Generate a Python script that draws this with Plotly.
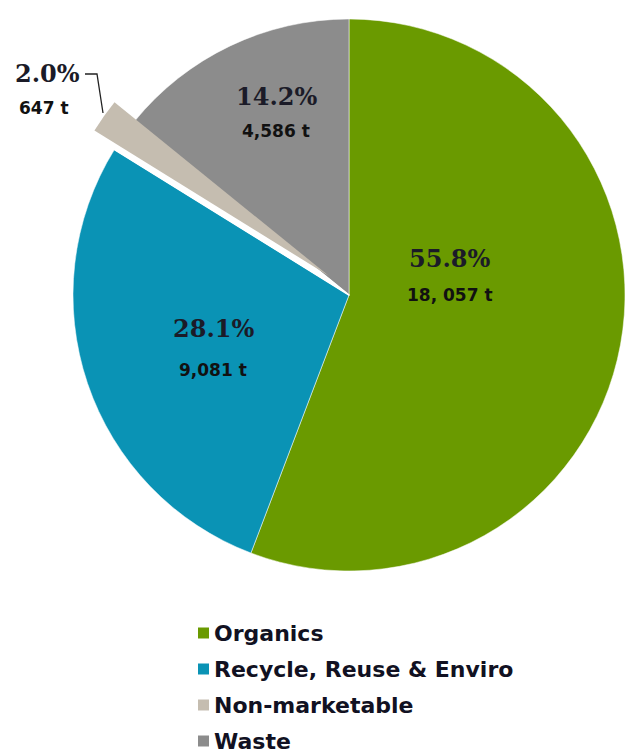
import plotly.graph_objects as go

# ---- data ----
categories = ["Organics", "Recycle, Reuse & Enviro", "Non-marketable", "Waste"]
tonnes = [18057, 9081, 647, 4586]
tonne_labels = ["18, 057 t", "9,081 t", "647 t", "4,586 t"]
colors = ["#6A9A00", "#0A93B5", "#C5BDB0", "#8C8C8C"]
pulled = "Non-marketable"

W, H = 626, 754
total = sum(tonnes)
pct_labels = [f"{v / total * 100:.1f}%" for v in tonnes]


def px(x, y):
    return x / W, 1 - y / H


def dom(x0, x1, ytop, ybot):
    return dict(x=[max(0, x0 / W), min(1, x1 / W)], y=[max(0, 1 - ybot / H), min(1, 1 - ytop / H)])


# main pie geometry (pixels)
CX, CY, R = 349, 295, 276
OFF_X, OFF_Y = -20, -19  # displacement of the pulled slice

main_dom = dom(CX - R, CX + R, CY - R, CY + R)
pull_dom = dom(CX - R + OFF_X, CX + R + OFF_X, CY - R + OFF_Y, CY + R + OFF_Y)

common = dict(labels=categories, values=tonnes, sort=False, direction="clockwise",
              rotation=0, textinfo="none", showlegend=False)

fig = go.Figure()
# full pie
fig.add_trace(go.Pie(**common, domain=main_dom,
                     marker=dict(colors=colors, line=dict(color="white", width=0.5)),
                     hoverinfo="label+value+percent"))
# white cover over the original place of the pulled slice
cover_cols = ["white" if c == pulled else "rgba(0,0,0,0)" for c in categories]
cover_line = ["white" if c == pulled else "rgba(0,0,0,0)" for c in categories]
fig.add_trace(go.Pie(**common, domain=main_dom,
                     marker=dict(colors=cover_cols, line=dict(color=cover_line, width=1.5)),
                     hoverinfo="skip"))
# the pulled slice, displaced
pull_cols = [col if c == pulled else "rgba(0,0,0,0)" for c, col in zip(categories, colors)]
fig.add_trace(go.Pie(**common, domain=pull_dom,
                     marker=dict(colors=pull_cols, line=dict(color="rgba(0,0,0,0)", width=0)),
                     hoverinfo="label+value+percent"))

# label positions (pixel centres) for percent and tonnage text
pct_pos = [(449, 258), (213, 329), (47, 73), (276, 97)]
ton_pos = [(450, 295), (213, 370), (44, 108), (276, 131)]

annotations = []
for p, t, (x1, y1), (x2, y2) in zip(pct_labels, tonne_labels, pct_pos, ton_pos):
    ax, ay = px(x1, y1)
    annotations.append(dict(x=ax, y=ay, xref="paper", yref="paper", text="<b>" + p + "</b>",
                            showarrow=False, xanchor="center", yanchor="middle",
                            font=dict(family="DejaVu Serif", size=24, color="#1B1B28")))
    bx, by = px(x2, y2)
    annotations.append(dict(x=bx, y=by, xref="paper", yref="paper", text="<b>" + t + "</b>",
                            showarrow=False, xanchor="center", yanchor="middle",
                            font=dict(family="DejaVu Sans", size=17, color="#111111")))

# leader line for the small slice
pts = [(85, 74), (97, 74), (103, 113)]
path = "M " + " L ".join(f"{px(x, y)[0]},{px(x, y)[1]}" for x, y in pts)
shapes = [dict(type="path", xref="paper", yref="paper", path=path,
               line=dict(color="#222222", width=1.3))]

# legend (swatch + label per category)
LEG_X, LEG_Y0, LEG_STEP, SW = 198, 633, 36, 11
for i, (cat, col) in enumerate(zip(categories, colors)):
    yc = LEG_Y0 + i * LEG_STEP
    x0, ytop = px(LEG_X, yc - SW / 2)
    x1, ybot = px(LEG_X + SW, yc + SW / 2)
    shapes.append(dict(type="rect", xref="paper", yref="paper", x0=x0, x1=x1, y0=ybot, y1=ytop,
                       fillcolor=col, line=dict(width=0)))
    lx, ly = px(LEG_X + SW + 3, yc)
    annotations.append(dict(x=lx, y=ly, xref="paper", yref="paper", text="<b>" + cat + "</b>",
                            showarrow=False, xanchor="left", yanchor="middle",
                            font=dict(family="DejaVu Sans", size=22, color="#111122")))

fig.update_layout(
    width=W, height=H,
    margin=dict(l=0, r=0, t=0, b=0),
    paper_bgcolor="white", plot_bgcolor="white",
    annotations=annotations, shapes=shapes,
    showlegend=False,
)

fig.write_html("out.html")
